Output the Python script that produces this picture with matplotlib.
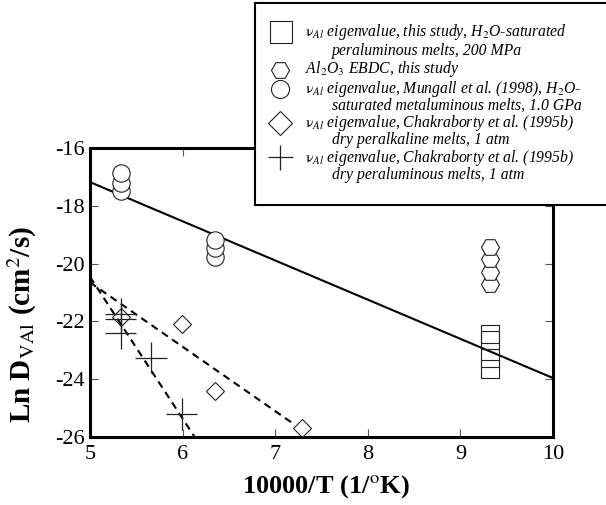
import numpy as np
import matplotlib
matplotlib.use('Agg')
import matplotlib.pyplot as plt

plt.rcParams['font.family'] = ['Liberation Serif', 'DejaVu Serif']
plt.rcParams['mathtext.fontset'] = 'stix'
plt.rcParams['axes.unicode_minus'] = False

# this study, H2O-saturated peraluminous melts (squares)
sq_x = [9.32, 9.32, 9.32, 9.32]
sq_y = [-22.45, -22.65, -23.25, -23.65]
# Al2O3 EBDC (hexagons)
hex_x = [9.32, 9.32, 9.32, 9.32]
hex_y = [-20.71, -20.29, -19.84, -19.43]
# Mungall et al. 1998 (circles)
circ_x = [5.33, 5.33, 5.33, 6.35, 6.35, 6.35]
circ_y = [-17.5, -17.2, -16.85, -19.77, -19.46, -19.18]
# Chakraborty peralkaline (diamonds)
diam_x = [5.33, 5.99, 6.35, 7.29]
diam_y = [-21.85, -22.1, -24.4, -25.7]
# Chakraborty peraluminous (crosses)
cross_x = [5.33, 5.33, 5.33, 5.66, 5.99]
cross_y = [-21.75, -21.9, -22.4, -23.25, -25.2]
cross_xerr = 0.17
cross_yerr = 0.55

# fitted lines
solid_x = [5.0, 10.0]
solid_y = [-17.18, -23.96]
dash_alu_x = [5.0, 6.13]
dash_alu_y = [-20.46, -26.0]
dash_alk_x = [5.0, 7.2]
dash_alk_y = [-20.65, -25.55]

fig = plt.figure(figsize=(6.06, 5.05), dpi=100)
ax = fig.add_axes([90/606, 1-437/505, 463/606, 289/505])

ax.plot(solid_x, solid_y, color='black', lw=1.5, zorder=2)
ax.plot(dash_alu_x, dash_alu_y, color='black', lw=1.5, ls=(0, (3.5, 2.5)), zorder=2)
ax.plot(dash_alk_x, dash_alk_y, color='black', lw=1.5, ls=(0, (3.5, 2.5)), zorder=2)

mk = dict(ls='none', markeredgecolor='#222', markeredgewidth=0.8, zorder=3)
ax.plot(sq_x, sq_y, marker='s', markersize=13, markerfacecolor='none', **mk)
ax.plot(hex_x, hex_y, marker='H', markersize=13, markerfacecolor='white', **mk)
ax.plot(circ_x, circ_y, marker='o', markersize=12.5, markerfacecolor='white', **mk)
ax.plot(diam_x, diam_y, marker='D', markersize=9.5, markerfacecolor='none', **mk)
ax.errorbar(cross_x, cross_y, xerr=cross_xerr, yerr=cross_yerr, fmt='none',
            ecolor='#222', elinewidth=0.9, capsize=0, zorder=3)

ax.set_xlim(5, 10)
ax.set_ylim(-26, -16)
ax.set_xticks(np.arange(5, 11, 1))
ax.set_yticks(np.arange(-26, -15, 2))
ax.tick_params(direction='in', top=True, right=True, length=6, width=0.8,
               color='#555', labelsize=16)
ax.tick_params(axis='x', pad=6)
ax.tick_params(axis='y', pad=4)
for sp in ax.spines.values():
    sp.set_linewidth(2.2)

ax.set_xlabel('10000/T (1/$^{\\mathrm{o}}$K)', fontsize=19, fontweight='bold')
ax.set_ylabel('Ln D$_{\\mathrm{VAl}}$ (cm$^{\\mathrm{2}}$/s)', fontsize=21, fontweight='bold')
ax.xaxis.set_label_coords(0.51, -0.125)
ax.yaxis.set_label_coords(-0.11, 0.39)

# legend box
lax = fig.add_axes([255/606, 1-205/505, 360/606, 202/505], zorder=5)
lax.set_xlim(255, 615)
lax.set_ylim(205, 3)
lax.set_xticks([])
lax.set_yticks([])
lax.set_facecolor('white')
for sp in lax.spines.values():
    sp.set_linewidth(1.5)

lk = dict(markeredgecolor='#222', markeredgewidth=0.8, markerfacecolor='none', ls='none')
lax.plot(281, 32, marker='s', markersize=16, **lk)
lax.plot(280, 70, marker='H', markersize=13, **lk)
lax.plot(280, 89, marker='o', markersize=13, **lk)
lax.plot(280, 123, marker='D', markersize=12, **lk)
lax.plot(280, 157, marker='+', markersize=18, markeredgewidth=0.9, color='#222', ls='none')

nu = '$\\mathrm{\\nu}_{Al}$'
tk = dict(fontsize=11.3, style='italic', va='center', ha='left')
lax.text(305, 32, nu + ' eigenvalue, this study, H$_2$O-saturated', **tk)
lax.text(332, 51, 'peraluminous melts, 200 MPa', **tk)
lax.text(305, 69, 'Al$_2$O$_3$ EBDC, this study', **tk)
lax.text(305, 89, nu + ' eigenvalue, Mungall et al. (1998), H$_2$O-', **tk)
lax.text(332, 106, 'saturated metaluminous melts, 1.0 GPa', **tk)
lax.text(305, 123, nu + ' eigenvalue, Chakraborty et al. (1995b)', **tk)
lax.text(332, 140, 'dry peralkaline melts, 1 atm', **tk)
lax.text(305, 158, nu + ' eigenvalue, Chakraborty et al. (1995b)', **tk)
lax.text(332, 175, 'dry peraluminous melts, 1 atm', **tk)

fig.savefig('out.png', dpi=100)
